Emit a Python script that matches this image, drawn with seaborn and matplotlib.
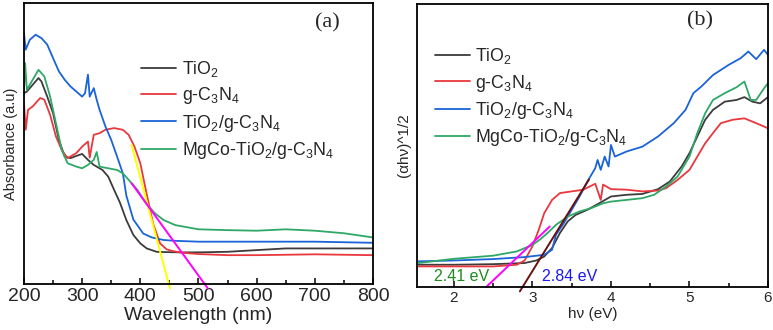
import pandas as pd
import numpy as np
import matplotlib

matplotlib.use('Agg')
import matplotlib.pyplot as plt
import seaborn as sns
from matplotlib.ticker import MultipleLocator

# ---- panel (a): absorbance vs wavelength ----
wl_tio2 = [200, 205, 215, 225, 230, 240, 250, 260, 270, 280, 290, 300, 310, 320, 335, 345, 355, 365,
           376, 388, 400, 411, 428, 440, 470, 500, 550, 600, 650, 700, 750, 800]
abs_tio2 = [0.679, 0.685, 0.709, 0.733, 0.721, 0.667, 0.608, 0.513, 0.454, 0.448, 0.456, 0.463, 0.442,
            0.424, 0.406, 0.382, 0.335, 0.290, 0.228, 0.175, 0.145, 0.127, 0.115, 0.114, 0.113, 0.113,
            0.115, 0.121, 0.127, 0.127, 0.127, 0.127]

wl_gcn = [200, 203, 207, 215, 228, 235, 245, 255, 265, 275, 290, 300, 310, 313, 320, 330, 340, 355, 370,
          380, 390, 400, 411, 422, 434, 445, 455, 470, 500, 550, 600, 700, 800]
abs_gcn = [0.644, 0.549, 0.620, 0.632, 0.662, 0.656, 0.602, 0.525, 0.477, 0.448, 0.466, 0.489, 0.507,
           0.450, 0.531, 0.537, 0.549, 0.555, 0.549, 0.531, 0.489, 0.430, 0.320, 0.215, 0.145, 0.124,
           0.118, 0.112, 0.107, 0.103, 0.103, 0.106, 0.103]

wl_comp = [200, 203, 210, 220, 230, 240, 250, 260, 270, 280, 290, 300, 305, 310, 313, 320, 325, 330,
           340, 350, 360, 370, 376, 388, 405, 420, 440, 460, 500, 600, 700, 800]
abs_comp = [0.893, 0.834, 0.869, 0.887, 0.875, 0.852, 0.804, 0.757, 0.727, 0.703, 0.685, 0.667, 0.679,
            0.745, 0.667, 0.697, 0.656, 0.620, 0.561, 0.513, 0.454, 0.394, 0.315, 0.230, 0.180, 0.166,
            0.157, 0.154, 0.151, 0.151, 0.151, 0.147]

wl_mgco = [200, 202, 205, 215, 225, 235, 245, 255, 265, 275, 290, 300, 310, 320, 325, 330, 345, 360, 370,
           380, 395, 410, 425, 440, 460, 500, 550, 600, 650, 700, 750, 800]
abs_mgco = [0.691, 0.786, 0.691, 0.727, 0.762, 0.739, 0.667, 0.572, 0.477, 0.430, 0.418, 0.412, 0.424,
            0.442, 0.470, 0.418, 0.412, 0.406, 0.394, 0.371, 0.335, 0.287, 0.252, 0.228, 0.210, 0.195,
            0.192, 0.190, 0.195, 0.190, 0.181, 0.166]

# tangent lines used for the band edge
yellow_x = [385, 451]
yellow_y = [0.495, -0.015]
magenta_x = [385, 516]
magenta_y = [0.359, -0.015]

# ---- panel (b): Tauc plot ----
ev_tio2 = [1.55, 2.0, 2.5, 2.9, 3.05, 3.15, 3.25, 3.35, 3.45, 3.55, 3.7, 3.85, 4.0, 4.2, 4.4, 4.6, 4.75,
           4.9, 5.0, 5.1, 5.2, 5.3, 5.45, 5.6, 5.7, 5.8, 5.9, 6.0]
tauc_tio2 = [0.079, 0.079, 0.081, 0.085, 0.094, 0.108, 0.138, 0.191, 0.232, 0.255, 0.273, 0.296, 0.320,
             0.326, 0.329, 0.346, 0.373, 0.426, 0.473, 0.532, 0.591, 0.626, 0.655, 0.661, 0.671, 0.655,
             0.649, 0.671]

ev_gcn = [1.55, 2.5, 2.8, 2.9, 3.0, 3.08, 3.15, 3.25, 3.35, 3.5, 3.65, 3.8, 3.87, 3.9, 4.0, 4.2, 4.4, 4.6,
          4.7, 4.85, 5.0, 5.1, 5.2, 5.3, 5.4, 5.55, 5.7, 5.85, 6.0]
tauc_gcn = [0.073, 0.073, 0.079, 0.094, 0.144, 0.202, 0.261, 0.308, 0.332, 0.338, 0.344, 0.365, 0.308,
            0.362, 0.346, 0.344, 0.338, 0.341, 0.349, 0.379, 0.414, 0.461, 0.508, 0.544, 0.579, 0.591,
            0.596, 0.579, 0.561]

ev_comp = [1.55, 2.0, 2.5, 2.9, 3.15, 3.25, 3.3, 3.4, 3.5, 3.6, 3.7, 3.8, 3.83, 3.87, 3.92, 3.97, 4.0,
           4.05, 4.2, 4.4, 4.6, 4.8, 4.95, 5.05, 5.15, 5.3, 5.5, 5.65, 5.75, 5.85, 5.95, 6.0]
tauc_comp = [0.091, 0.094, 0.099, 0.106, 0.114, 0.132, 0.185, 0.226, 0.273, 0.320, 0.373, 0.420, 0.449,
             0.414, 0.461, 0.426, 0.502, 0.461, 0.479, 0.496, 0.532, 0.579, 0.626, 0.685, 0.708, 0.749,
             0.785, 0.808, 0.832, 0.805, 0.838, 0.820]

ev_mgco = [1.55, 2.0, 2.5, 2.8, 3.0, 3.1, 3.2, 3.3, 3.45, 3.6, 3.75, 3.9, 4.0, 4.2, 4.4, 4.55, 4.7, 4.85,
           5.0, 5.1, 5.2, 5.3, 5.45, 5.6, 5.7, 5.78, 5.85, 5.95, 6.0]
tauc_mgco = [0.085, 0.100, 0.111, 0.126, 0.149, 0.169, 0.193, 0.220, 0.249, 0.267, 0.279, 0.296, 0.302,
             0.308, 0.314, 0.326, 0.355, 0.391, 0.461, 0.544, 0.614, 0.661, 0.685, 0.706, 0.726, 0.661,
             0.661, 0.702, 0.720]

magenta_b_x = [2.41, 3.22]
magenta_b_y = [0.0, 0.214]
brown_b_x = [2.84, 3.72]
brown_b_y = [-0.015, 0.38]

samples = ['TiO$_2$', 'g-C$_3$N$_4$', 'TiO$_2$/g-C$_3$N$_4$', 'MgCo-TiO$_2$/g-C$_3$N$_4$']
colors = ['#3c3c3c', '#e8383d', '#1a63d8', '#2ea866']

sns.set_theme(style='white')
plt.rcParams['font.family'] = ['Liberation Sans', 'DejaVu Sans']
plt.rcParams['mathtext.fontset'] = 'custom'
plt.rcParams['mathtext.rm'] = 'Liberation Sans'
plt.rcParams['mathtext.it'] = 'Liberation Sans'


def long_df(xs, ys):
    rows = []
    for name, x, y in zip(samples, xs, ys):
        rows.append(pd.DataFrame({'x': x, 'y': y, 'sample': name}))
    return pd.concat(rows, ignore_index=True)


df_a = long_df([wl_tio2, wl_gcn, wl_comp, wl_mgco], [abs_tio2, abs_gcn, abs_comp, abs_mgco])
df_b = long_df([ev_tio2, ev_gcn, ev_comp, ev_mgco], [tauc_tio2, tauc_gcn, tauc_comp, tauc_mgco])
palette = dict(zip(samples, colors))

fig = plt.figure(figsize=(7.73, 3.3), dpi=100)
ax1 = fig.add_axes([0.031, 0.139, 0.4515, 0.852])
ax2 = fig.add_axes([0.5395, 0.130, 0.454, 0.858])

for ax, df in [(ax1, df_a), (ax2, df_b)]:
    sns.lineplot(data=df, x='x', y='y', hue='sample', palette=palette, linewidth=1.3,
                 estimator=None, sort=False, ax=ax, legend=False)
    for s in ax.spines.values():
        s.set_color('black')
        s.set_linewidth(1.3)
    ax.set_yticks([])
    ax.tick_params(axis='x', which='both', direction='in', bottom=True, top=False, color='black')
    ax.tick_params(axis='x', which='major', length=4, width=1.1)
    ax.tick_params(axis='x', which='minor', length=3, width=1.1)

# panel (a)
ax1.plot(yellow_x, yellow_y, color='#ffff00', lw=1.4, clip_on=False)
ax1.plot(magenta_x, magenta_y, color='#ff00ff', lw=1.4, clip_on=False)
ax1.set_xlim(200, 800)
ax1.set_ylim(0, 1)
ax1.xaxis.set_major_locator(MultipleLocator(100))
ax1.xaxis.set_minor_locator(MultipleLocator(50))
ax1.tick_params(axis='x', labelsize=14, pad=3)
ax1.set_xlabel('Wavelength (nm)', fontsize=14, labelpad=1)
ax1.set_ylabel('Absorbance (a.u)', fontsize=10.5, labelpad=4)
ax1.text(0.87, 0.93, '(a)', transform=ax1.transAxes, fontsize=16, family='Liberation Serif',
         ha='center', va='center')

# panel (b)
ax2.plot(magenta_b_x, magenta_b_y, color='#ff00ff', lw=1.4, clip_on=False)
ax2.plot(brown_b_x, brown_b_y, color='#6b1010', lw=1.4, clip_on=False)
ax2.set_xlim(1.53, 6.0)
ax2.set_ylim(0, 1)
ax2.xaxis.set_major_locator(MultipleLocator(1))
ax2.xaxis.set_minor_locator(MultipleLocator(0.5))
ax2.tick_params(axis='x', labelsize=11, pad=3)
ax2.set_xlabel('hν (eV)', fontsize=11, labelpad=1)
ax2.set_ylabel('(αhν)^1/2', fontsize=11, labelpad=4)
ax2.text(0.805, 0.94, '(b)', transform=ax2.transAxes, fontsize=16, family='Liberation Serif',
         ha='center', va='center')
ax2.text(1.75, 0.038, '2.41 eV', color='#1e8c1e', fontsize=11.5, va='center')
ax2.text(3.12, 0.038, '2.84 eV', color='#1a1af0', fontsize=11.5, va='center')

# legends
handles = [plt.Line2D([], [], color=c, lw=1.3) for c in colors]
ax1.legend(handles, samples, loc='upper left', bbox_to_anchor=(0.335, 0.80), frameon=False,
           fontsize=12.8, handlelength=2.0, handletextpad=0.3, labelspacing=0.35,
           borderpad=0, borderaxespad=0)
ax2.legend(handles, samples, loc='upper left', bbox_to_anchor=(0.05, 0.85), frameon=False,
           fontsize=12.8, handlelength=2.0, handletextpad=0.3, labelspacing=0.35,
           borderpad=0, borderaxespad=0)

fig.savefig('out.png', dpi=100)
plt.close(fig)
